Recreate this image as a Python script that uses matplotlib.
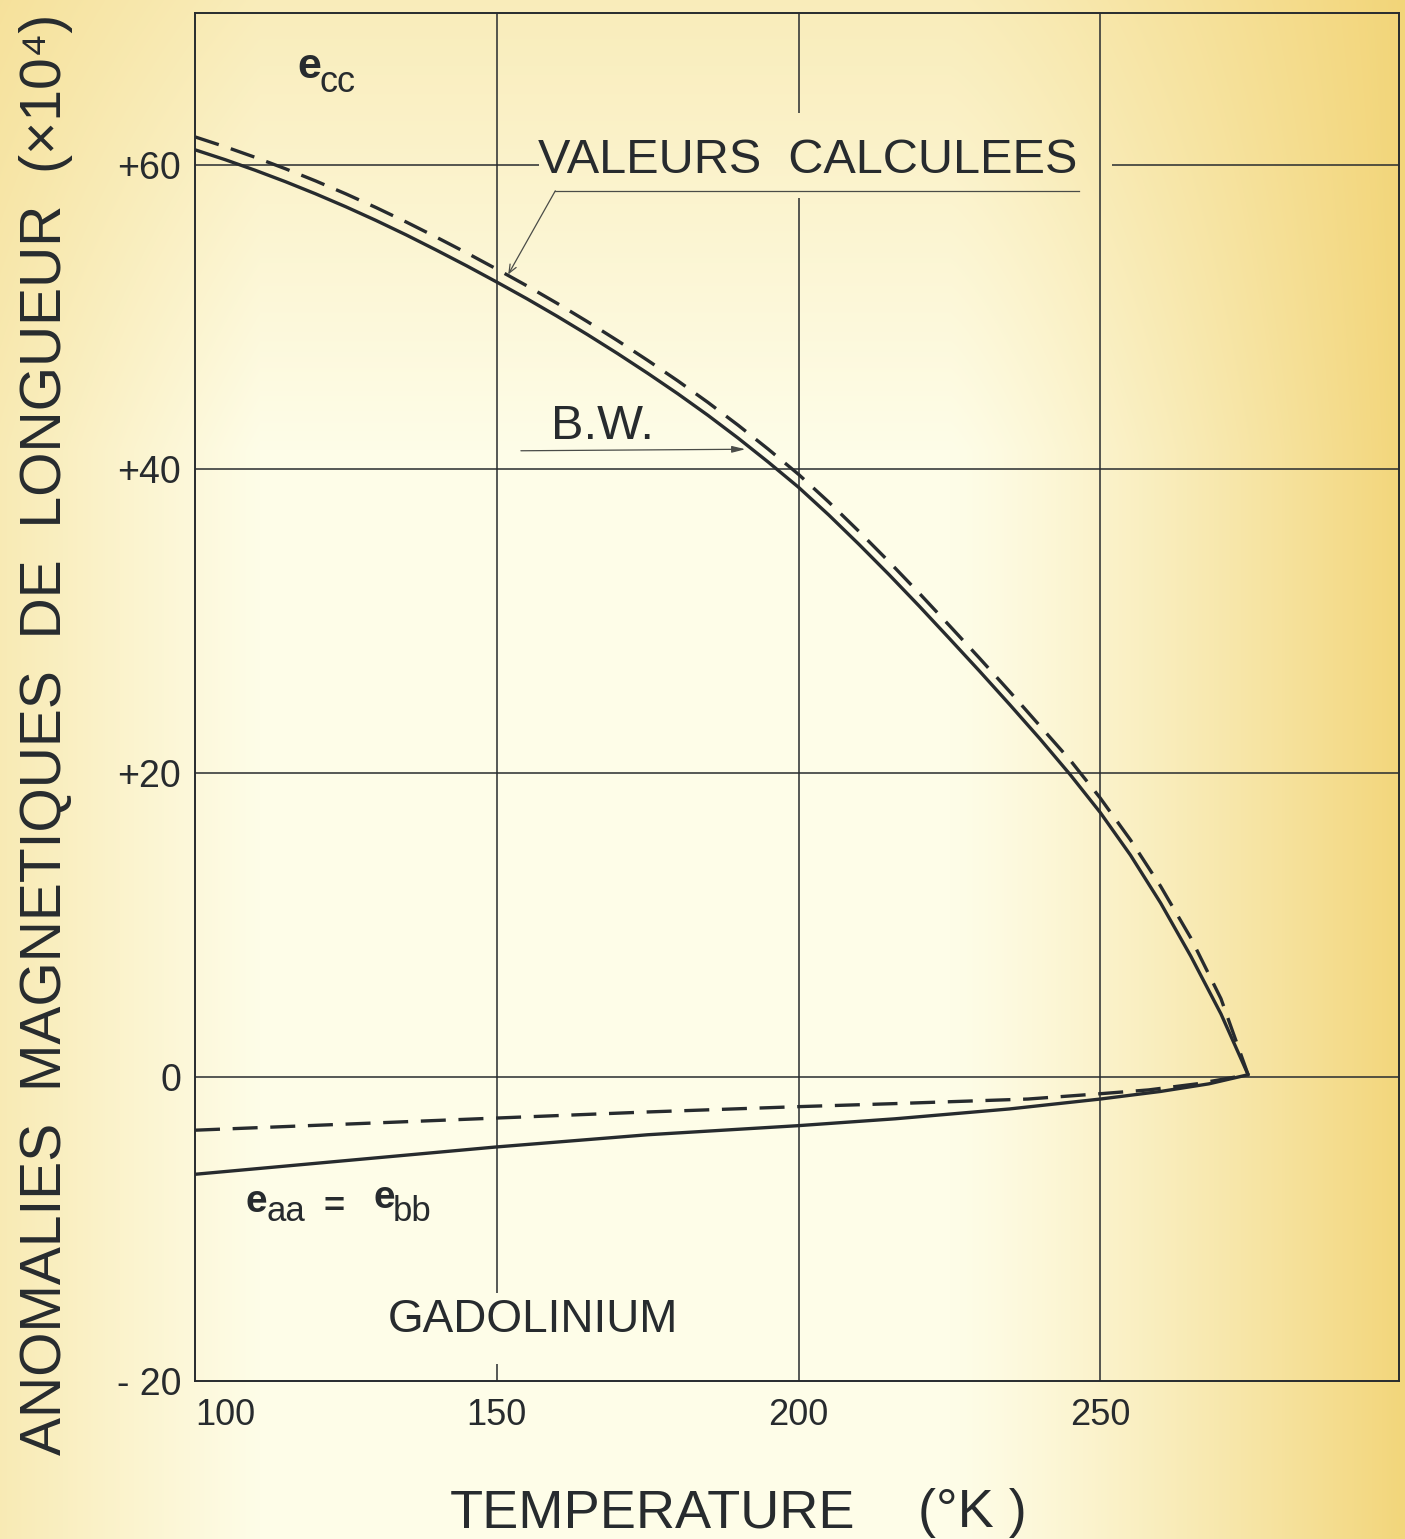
import numpy as np
import matplotlib
matplotlib.use("Agg")
import matplotlib.pyplot as plt

# ---- data ----
T_ecc = [100, 105, 110, 115, 120, 125, 130, 135, 140, 145, 150, 155, 160, 165, 170, 175,
         180, 185, 190, 195, 200, 205, 210, 215, 220, 225, 230, 235, 240, 245, 250, 255,
         260, 265, 270, 274.5]
ecc_bw = [61.00, 60.35, 59.65, 58.90, 58.10, 57.25, 56.35, 55.40, 54.40, 53.37, 52.30, 51.20,
          50.05, 48.85, 47.60, 46.30, 44.95, 43.53, 42.03, 40.45, 38.80, 36.98, 35.05, 33.05,
          30.98, 28.85, 26.70, 24.50, 22.25, 19.90, 17.40, 14.60, 11.45, 7.95, 4.15, 0.15]
ecc_calc = [61.85, 61.20, 60.50, 59.75, 58.95, 58.10, 57.20, 56.25, 55.25, 54.22, 53.15, 52.05,
            50.90, 49.70, 48.45, 47.15, 45.80, 44.38, 42.88, 41.30, 39.65, 37.83, 35.90, 33.90,
            31.83, 29.70, 27.55, 25.35, 23.10, 20.85, 18.35, 15.60, 12.55, 9.15, 5.15, 0.15]

T_eaa_bw = [100, 125, 150, 175, 200, 216, 235, 250, 260, 268, 274.5]
eaa_bw = [-6.4, -5.5, -4.6, -3.8, -3.2, -2.75, -2.1, -1.45, -0.95, -0.45, 0.15]

T_eaa_calc = [100, 125, 150, 175, 200, 216, 238, 250, 258, 266, 274.5]
eaa_calc = [-3.5, -3.1, -2.7, -2.3, -1.95, -1.75, -1.45, -1.1, -0.85, -0.45, 0.15]

x_ticks = [100, 150, 200, 250]
x_labels = ["100", "150", "200", "250"]
y_ticks = [-20, 0, 20, 40, 60]
y_labels = ["- 20", "0", "+20", "+40", "+60"]

INK = "#272b2e"
LEAD = "#4a4c48"
FONT = ["Liberation Sans", "DejaVu Sans"]

W, H = 1405, 1539
fig = plt.figure(figsize=(W / 100, H / 100), dpi=100)

# paper background: pale cream, yellowed towards the edges
xx, yy = np.meshgrid(np.arange(W), np.arange(H))
w_right = np.clip((xx - 950) / 450.0, 0, 1) ** 1.2 * 0.95
w_left = np.clip((260 - xx) / 260.0, 0, 1) * 0.45
w_top = np.clip((450 - yy) / 450.0, 0, 1) * 0.4
w = 1 - (1 - w_right) * (1 - w_left) * (1 - w_top)
cream = np.array([254, 253, 232]) / 255.0
yellow = np.array([242, 212, 118]) / 255.0
rgb = cream[None, None, :] * (1 - w[..., None]) + yellow[None, None, :] * w[..., None]
bg = fig.add_axes([0, 0, 1, 1], zorder=-5)
bg.imshow(rgb, aspect="auto", interpolation="bilinear")
bg.axis("off")

ax = fig.add_axes([195 / W, 1 - 1381 / H, (1399 - 195) / W, (1381 - 13) / H])
ax.set_facecolor("none")
ax.set_xlim(100, 299.5)
ax.set_ylim(-20, 70)

for s in ax.spines.values():
    s.set_color(INK)
    s.set_linewidth(1.4)

# grid drawn as segments (broken where the lettering sits)
glw = 1.1
ax.hlines([0, 20, 40], 100, 299.5, color=INK, lw=glw)
ax.hlines(60, 100, 157, color=INK, lw=glw)
ax.hlines(60, 252, 299.5, color=INK, lw=glw)
ax.vlines(150, -14.2, 70, color=INK, lw=glw)
ax.vlines(150, -20, -18.9, color=INK, lw=glw)
ax.vlines(200, -20, 57.8, color=INK, lw=glw)
ax.vlines(200, 63.4, 70, color=INK, lw=glw)
ax.vlines(250, -20, 70, color=INK, lw=glw)

# curves
ax.plot(T_ecc, ecc_bw, color=INK, lw=2.4, solid_capstyle="round", solid_joinstyle="round")
ax.plot(T_ecc, ecc_calc, color=INK, lw=2.4, dashes=(7.5, 3.8))
ax.plot(T_eaa_bw, eaa_bw, color=INK, lw=2.4, solid_capstyle="round", solid_joinstyle="round")
ax.plot(T_eaa_calc, eaa_calc, color=INK, lw=2.4, dashes=(7.5, 3.8))

# ticks
ax.set_xticks(x_ticks)
ax.set_xticklabels(x_labels, family=FONT, fontsize=26, color=INK)
ax.get_xticklabels()[0].set_horizontalalignment("left")
ax.set_yticks(y_ticks)
ax.set_yticklabels(y_labels, family=FONT, fontsize=27, color=INK)
ax.tick_params(axis="x", length=0, pad=12)
ax.tick_params(axis="y", length=0, pad=10)

# annotations
ax.text(116.9, 65.7, "e", fontsize=31, fontweight="bold", family=FONT, color=INK, va="baseline")
ax.text(120.7, 64.8, "cc", fontsize=26, family=FONT, color=INK, va="baseline")

ax.text(201.6, 60.3, "VALEURS  CALCULEES", fontsize=35, family=FONT, color=INK,
        ha="center", va="center")
ax.plot([159.7, 246.4], [58.3, 58.3], color=LEAD, lw=0.9)
ax.annotate("", xy=(151.9, 52.8), xytext=(159.7, 58.3),
            arrowprops=dict(arrowstyle="->,head_length=0.6,head_width=0.25", color=LEAD, lw=0.9,
                            shrinkA=0, shrinkB=0))

ax.text(167.5, 42.8, "B.W.", fontsize=35, family=FONT, color=INK, ha="center", va="center")
ax.annotate("", xy=(191.2, 41.3), xytext=(154, 41.2),
            arrowprops=dict(arrowstyle="-|>,head_length=0.8,head_width=0.2", color=LEAD, lw=0.9,
                            shrinkA=0, shrinkB=0))

ax.text(108.3, -8.85, "e", fontsize=28, fontweight="bold", family=FONT, color=INK, va="baseline")
ax.text(111.9, -9.5, "aa", fontsize=25, family=FONT, color=INK, va="baseline")
ax.text(123.0, -8.6, "=", fontsize=26, fontweight="bold", family=FONT, color=INK, ha="center", va="center")
ax.text(129.5, -8.6, "e", fontsize=28, fontweight="bold", family=FONT, color=INK, va="baseline")
ax.text(132.8, -9.5, "bb", fontsize=25, family=FONT, color=INK, va="baseline")

ax.text(156.0, -16.0, "GADOLINIUM", fontsize=33, family=FONT, color=INK, ha="center", va="center")

# axis titles
fig.text(450 / W, 1 - 1527 / H, "TEMPERATURE", fontsize=39, family=FONT, color=INK,
         ha="left", va="baseline")
fig.text(918 / W, 1 - 1527 / H, "(°K )", fontsize=39, family=FONT, color=INK,
         ha="left", va="baseline")
fig.text(46 / W, 1 - 1455 / H, "ANOMALIES  MAGNETIQUES  DE  LONGUEUR  (×10⁴)",
         fontsize=41, family=FONT, color=INK, rotation=90, ha="center", va="bottom")

fig.savefig("out.png", dpi=100)
